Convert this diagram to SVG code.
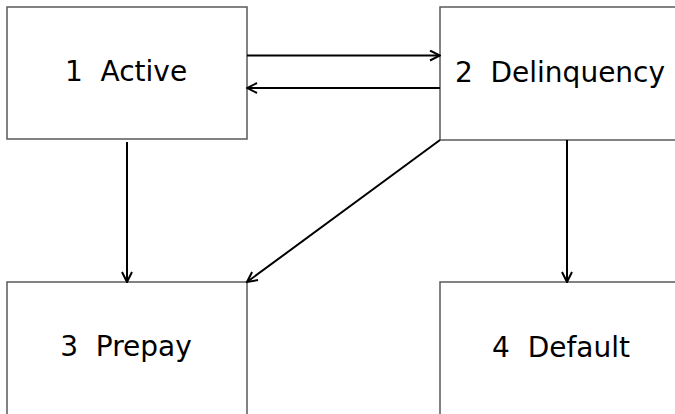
<svg xmlns="http://www.w3.org/2000/svg" width="675" height="414" viewBox="0 0 675 414">
<style>
.box{fill:#fff;stroke:#595959;stroke-width:1.5}
.lbl{font-family:"DejaVu Sans",sans-serif;font-size:28px;fill:#000;text-anchor:middle;white-space:pre}
.con{stroke:#000;stroke-width:2;fill:none}
</style>
<defs>
<marker id="ah" viewBox="0 0 12 12" refX="11" refY="6" markerWidth="12" markerHeight="12" markerUnits="userSpaceOnUse" orient="auto">
<path d="M1,1 L11,6 L1,11" fill="none" stroke="#000" stroke-width="2"/>
</marker>
</defs>
<rect width="675" height="414" fill="#fff"/>
<g id="n1"><rect class="box" x="7" y="7" width="240" height="132"/><text class="lbl" x="126" y="81" xml:space="preserve">1  Active</text></g>
<g id="n2"><rect class="box" x="440" y="7" width="240" height="133"/><text class="lbl" x="560" y="82" xml:space="preserve">2  Delinquency</text></g>
<g id="n3"><rect class="box" x="7" y="282" width="240" height="140"/><text class="lbl" x="126" y="356" xml:space="preserve">3  Prepay</text></g>
<g id="n4"><rect class="box" x="440" y="282" width="240" height="140"/><text class="lbl" x="561" y="357" xml:space="preserve">4  Default</text></g>
<g id="connectors">
<line class="con" x1="247" y1="55.5" x2="440" y2="55.5" marker-end="url(#ah)"/>
<line class="con" x1="440" y1="88" x2="247" y2="88" marker-end="url(#ah)"/>
<line class="con" x1="127" y1="142" x2="127" y2="282" marker-end="url(#ah)"/>
<line class="con" x1="567" y1="140" x2="567" y2="282" marker-end="url(#ah)"/>
<line class="con" x1="440" y1="140" x2="247" y2="282" marker-end="url(#ah)"/>
</g>
</svg>
